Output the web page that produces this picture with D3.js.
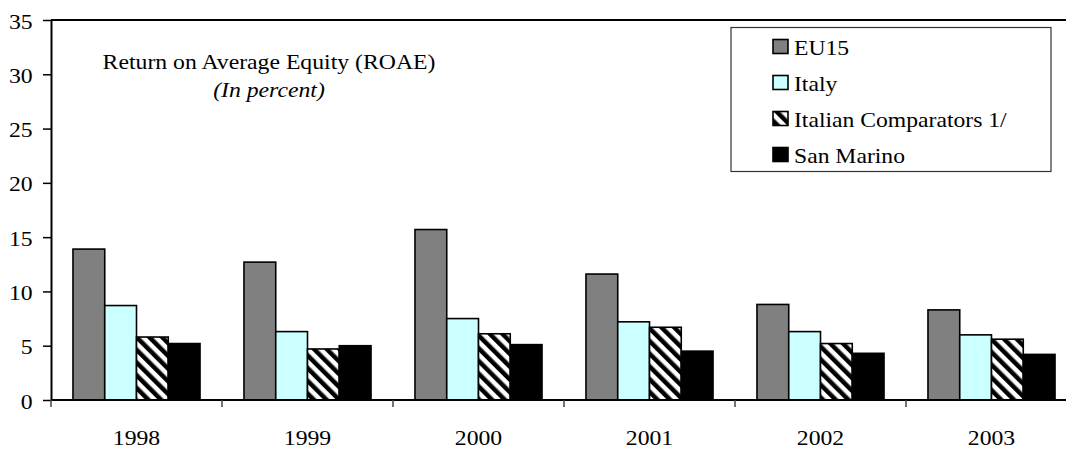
<!DOCTYPE html>
<html><head><meta charset="utf-8">
<script src="https://cdn.jsdelivr.net/npm/d3@7"></script>
<style>body{margin:0;background:#fff}svg{display:block}</style>
</head><body><div id="c"></div>
<script>
const years = ["1998","1999","2000","2001","2002","2003"];
const seriesNames = ["EU15","Italy","Italian Comparators 1/","San Marino"];
const eu15 = [13.9,12.7,15.7,11.6,8.8,8.3];
const italy = [8.7,6.3,7.5,7.2,6.3,6.0];
const comparators = [5.8,4.7,6.1,6.7,5.2,5.6];
const sanMarino = [5.2,5.0,5.1,4.5,4.3,4.2];
const yTicks = [0,5,10,15,20,25,30,35];
const seriesValues = [eu15, italy, comparators, sanMarino];

const FONT = "'Liberation Serif', 'Times New Roman', serif";
const SX = 1.13;
const W=1066,H=450;
const svg=d3.select("#c").append("svg").attr("width",W).attr("height",H).style("font-family",FONT);
const defs=svg.append("defs");
const pat=defs.append("pattern").attr("id","hatch").attr("patternUnits","userSpaceOnUse")
  .attr("width",9).attr("height",9).attr("patternTransform","rotate(-45)");
pat.append("rect").attr("width",9).attr("height",9).attr("fill","#fff");
pat.append("rect").attr("width",4.5).attr("height",9).attr("fill","#000");

function addText(parent, x, y, str, size, sx, anchor, italic){
  return parent.append("text").attr("transform",`translate(${x},${y}) scale(${sx},1)`)
    .attr("text-anchor",anchor||"start").style("font-family",FONT).style("font-size",size+"px")
    .style("font-style",italic?"italic":"normal").attr("fill","#000").text(str);
}

const fills=["#808080","#ccffff","url(#hatch)","#000"];
const x0=51, x1=1077, yTop=20, yBot=400;
const x=d3.scaleBand().domain(years).range([x0,x1]).paddingInner(0.257).paddingOuter(0.1285);
const xs=d3.scaleBand().domain(d3.range(4)).range([0,x.bandwidth()]);
const y=d3.scaleLinear().domain([0,35]).range([yBot,yTop]);

svg.append("line").attr("x1",x0).attr("x2",W).attr("y1",yTop).attr("y2",yTop).attr("stroke","#000").attr("stroke-width",2);

years.forEach((yr,i)=>{
  seriesValues.forEach((vals,s)=>{
    svg.append("rect").attr("x",x(yr)+xs(s)).attr("y",y(vals[i])).attr("width",xs.bandwidth())
      .attr("height",y(0)-y(vals[i])).attr("fill",fills[s]).attr("stroke","#000").attr("stroke-width",1.6);
  });
});

const ya=svg.append("g").attr("transform",`translate(${x0},0)`).call(d3.axisLeft(y).tickValues(yTicks).tickSize(8).tickSizeOuter(0));
ya.attr("font-family",null).attr("font-size",null);
ya.select(".domain").attr("stroke-width",2);
ya.selectAll(".tick line").attr("stroke-width",1.5);
ya.selectAll(".tick text").attr("x",-18.3/SX).attr("y",8).attr("dy",0).attr("transform",`scale(${SX},1)`)
  .style("font-family",FONT).style("font-size","21px").attr("fill","#000");

const xb=d3.scaleLinear().domain([0,6]).range([x0,x1]);
const xa=svg.append("g").attr("transform",`translate(0,${yBot})`);
xa.append("line").attr("x1",x0).attr("x2",W).attr("stroke","#000").attr("stroke-width",2);
xa.selectAll(".tk").data(d3.range(6)).join("line").attr("x1",d=>xb(d)).attr("x2",d=>xb(d)).attr("y1",0).attr("y2",7).attr("stroke","#444").attr("stroke-width",1.5);
years.forEach(yr=>addText(xa, x(yr)+x.bandwidth()/2, 45, yr, 21, SX, "middle"));

addText(svg, 269, 69, "Return on Average Equity (ROAE)", 21, SX, "middle");
addText(svg, 269, 96.5, "(In percent)", 21, SX, "middle", true);

const lg=svg.append("g");
lg.append("rect").attr("x",731).attr("y",27.5).attr("width",320).attr("height",144).attr("fill","#fff").attr("stroke","#333").attr("stroke-width",1.2);
seriesNames.forEach((n,i)=>{
  const base=54.5+i*36;
  lg.append("rect").attr("x",773).attr("y",base-15).attr("width",15).attr("height",14).attr("fill",fills[i]).attr("stroke","#000").attr("stroke-width",1.6);
  addText(lg, 794, base, n, 22, 1.075, "start");
});
</script></body></html>
